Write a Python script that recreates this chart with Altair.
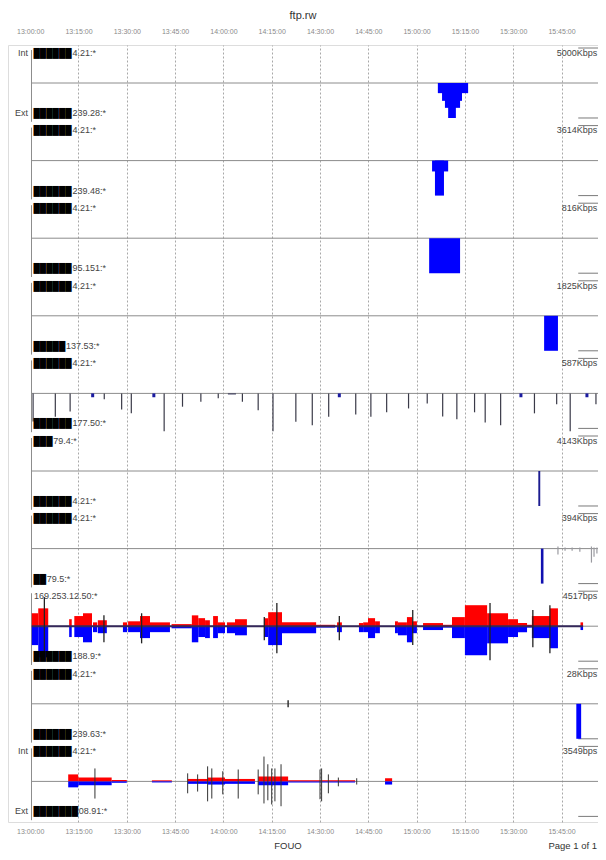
import altair as alt
import pandas as pd

# ---------------- data (times = minutes after 13:00:00, values = share of the panel's full scale) ----------------
TITLE = "ftp.rw"
FOOTER_LEFT = "FOUO"
FOOTER_RIGHT = "Page 1 of 1"
tick_minutes = [0, 15, 30, 45, 60, 75, 90, 105, 120, 135, 150, 165]
grid_minutes = [15, 30, 45, 60, 75, 90, 105, 120, 135, 150, 165]

top_prefix = ["Int", "", "", "", "", "", "", "", "", "Int"]
top_blob = [6, 6, 6, 6, 6, 3, 6, 0, 6, 6]
top_suffix = ["4.21:*", "4.21:*", "4.21:*", "4.21:*", "4.21:*", "79.4:*", "4.21:*",
              "169.253.12.50:*", "4.21:*", "4.21:*"]
bottom_prefix = ["Ext", "", "", "", "", "", "", "", "", "Ext"]
bottom_blob = [6, 6, 6, 5, 6, 6, 2, 6, 6, 7]
bottom_suffix = ["239.28:*", "239.48:*", "95.151:*", "137.53:*", "177.50:*", "4.21:*",
                 "79.5:*", "188.9:*", "239.63:*", "08.91:*"]
scale_labels = ["5000Kbps", "3614Kbps", "816Kbps", "1825Kbps", "587Kbps", "4143Kbps",
                "394Kbps", "4517bps", "28Kbps", "3549bps"]

# panel 1
p1_start = [126.6, 127.9, 128.8, 129.8]
p1_end = [136.0, 134.1, 133.5, 132.2]
p1_blue = [0.29, 0.51, 0.71, 1.0]
# panel 2
p2_start = [124.8, 125.7]
p2_end = [129.8, 128.5]
p2_blue = [0.31, 1.0]
# panel 3
p3_start = [123.9]
p3_end = [133.5]
p3_blue = [1.0]
# panel 4
p4_start = [159.6]
p4_end = [163.9]
p4_blue = [1.0]
# panel 5 (short bursts)
p5_time = [0.9, 7.8, 12.4, 19.4, 23.0, 28.4, 31.4, 38.4, 41.6, 47.3, 53.0, 58.4, 65.9, 70.8,
           75.4, 82.5, 87.6, 92.7, 96.0, 101.1, 105.8, 110.7, 117.5, 123.3, 128.1, 132.5,
           138.0, 141.3, 146.1, 152.4, 156.6, 163.5, 167.7, 172.9, 175.7]
p5_blue = [0.8, 0.67, 0.52, 0.11, 0.17, 0.46, 0.57, 0.11, 1.08, 0.38, 0.24, 0.14, 0.24, 0.48,
           1.08, 0.81, 0.91, 0.67, 0.11, 0.6, 0.67, 0.54, 0.43, 0.29, 0.66, 0.74,
           0.54, 0.83, 0.91, 0.11, 0.57, 0.31, 1.08, 0.11, 0.31]
p5_flat_start = [61.4]
p5_flat_end = [63.9]
p5_flat = [0.03]
# panel 6
p6_start = [157.8]
p6_end = [158.4]
p6_blue = [1.0]
# panel 7
p7_start = [158.6]
p7_end = [159.4]
p7_blue = [1.0]
p7_tick_time = [163.9, 166.1, 168.3, 170.7, 174.3, 175.1, 176.0]
p7_tick_up = [0.06, 0.03, 0.03, 0.03, 0.06, 0.03, 0.03]
p7_tick_down = [0.17, 0.06, 0.06, 0.09, 0.4, 0.23, 0.14]
# panel 8
p8_start = [0.5, 2.5, 12.1, 13.7, 16.4, 19.5, 21.0, 28.8, 30.4, 34.1, 37.2, 43.9, 50.2, 52.2,
            54.3, 56.8, 58.3, 61.1, 63.6, 72.6, 73.9, 78.2, 88.8, 95.3, 102.1, 103.4, 104.9,
            107.1, 113.3, 114.2, 117.0, 118.6, 122.0, 128.2, 131.0, 135.0, 141.9, 148.4,
            151.5, 154.3, 155.8, 161.4, 170.9]
p8_end = [2.5, 5.6, 12.9, 16.4, 19.2, 20.8, 23.8, 30.1, 34.1, 37.2, 43.4, 50.2, 52.2, 54.3,
          55.8, 58.3, 60.5, 63.6, 67.3, 73.9, 78.2, 88.8, 94.7, 96.8, 103.4, 104.9, 107.1,
          108.6, 114.2, 117.0, 118.6, 120.1, 128.2, 131.0, 135.0, 141.9, 148.4, 151.5,
          154.3, 155.8, 161.4, 163.9, 171.7]
p8_red = [0.37, 0.51, 0.2, 0.29, 0.37, 0.11, 0.17, 0.11, 0.14, 0.29, 0.11, 0.06, 0.31, 0.23,
          0.17, 0.29, 0.11, 0.11, 0.2, 0.23, 0.4, 0.11, 0.04, 0.11, 0.09, 0.11, 0.23,
          0.14, 0.14, 0.11, 0.26, 0.14, 0.09, 0.04, 0.26, 0.6, 0.37, 0.2,
          0.09, 0.04, 0.29, 0.51, 0.11]
p8_blue = [0.54, 0.89, 0.31, 0.31, 0.46, 0.17, 0.2, 0.17, 0.17, 0.34, 0.17, 0.06, 0.46, 0.31,
           0.34, 0.34, 0.2, 0.2, 0.26, 0.31, 0.54, 0.2, 0.04, 0.17, 0.17, 0.17, 0.34,
           0.2, 0.2, 0.26, 0.46, 0.2, 0.11, 0.04, 0.34, 0.83, 0.49, 0.31,
           0.17, 0.04, 0.34, 0.63, 0.11]
p8_active = [0.5, 171.7]
p8_spike_time = [4.4, 22.9, 34.6, 72.7, 76.6, 96.0, 118.8, 142.8, 156.1, 161.4]
p8_spike_up = [0.83, 0.31, 0.37, 0.26, 0.66, 0.29, 0.46, 0.66, 0.46, 0.6]
p8_spike_down = [0.86, 0.46, 0.49, 0.4, 0.77, 0.4, 0.54, 0.97, 0.6, 0.77]
# panel 9
p9_start = [169.6]
p9_end = [171.1]
p9_blue = [1.0]
p9_tick_time = [80.1]
p9_tick_up = [0.1]
p9_tick_down = [0.1]
# panel 10
p10_start = [11.8, 14.9, 25.3, 37.8, 48.9, 55.2, 60.5, 70.8, 80.1, 110.2]
p10_end = [14.9, 25.3, 30.0, 44.0, 55.2, 60.5, 69.8, 80.1, 100.9, 112.4]
p10_red = [0.2, 0.11, 0.04, 0.03, 0.07, 0.11, 0.07, 0.14, 0.03, 0.09]
p10_blue = [0.17, 0.11, 0.04, 0.03, 0.07, 0.09, 0.07, 0.11, 0.03, 0.09]
p10_spike_time = [20.1, 48.9, 52.0, 55.1, 56.4, 59.8, 64.6, 70.8, 72.6, 73.8, 75.0, 76.0, 77.9,
                  90.0, 90.5, 92.6, 95.7, 101.4]
p10_spike_up = [0.37, 0.23, 0.2, 0.43, 0.37, 0.29, 0.34, 0.34, 0.71, 0.49, 0.37, 0.37, 0.49,
                0.34, 0.37, 0.2, 0.11, 0.09]
p10_spike_down = [0.49, 0.34, 0.29, 0.57, 0.49, 0.37, 0.49, 0.37, 0.63, 0.54, 0.66, 0.57, 0.71,
                  0.51, 0.57, 0.34, 0.14, 0.09]

# ---------------- layout constants (style) ----------------
DEPTH = 0.451          # full scale, in panel-row units
BORDER_T = 0.4
RIGHT_T = 176.1
RIGHT_LINE = [170.2, 177.0]
TOP_LBL = -0.39
BOT_LBL = 0.387
RED = "#ff0000"
BLUE = "#0000ff"
FONT = "Liberation Sans"
LBL_SIZE = 9
BLOCK_W = 0.712 * LBL_SIZE

X_SCALE = alt.Scale(domain=[0, 180], range=[22.2, 601.8], nice=False, zero=False)
Y_SCALE = alt.Scale(domain=[-0.4897, 9.5232], range=[0, 777], nice=False, zero=False)

rects = []


def add_rects(panel, starts, ends, vals, side, color):
    sign = 1 if side == "down" else -1
    for s, e, v in zip(starts, ends, vals):
        rects.append(dict(t0=s, t1=e, y=panel, y2=panel + sign * v * DEPTH, color=color))


add_rects(0, p1_start, p1_end, p1_blue, "down", BLUE)
add_rects(1, p2_start, p2_end, p2_blue, "down", BLUE)
add_rects(2, p3_start, p3_end, p3_blue, "down", BLUE)
add_rects(3, p4_start, p4_end, p4_blue, "down", BLUE)
add_rects(4, p5_flat_start, p5_flat_end, p5_flat, "down", "#333355")
add_rects(5, p6_start, p6_end, p6_blue, "down", "#1c1c90")
add_rects(6, p7_start, p7_end, p7_blue, "down", "#1010b0")
add_rects(7, p8_start, p8_end, p8_red, "up", RED)
add_rects(7, p8_start, p8_end, p8_blue, "down", BLUE)
add_rects(8, p9_start, p9_end, p9_blue, "down", BLUE)
add_rects(9, p10_start, p10_end, p10_red, "up", RED)
add_rects(9, p10_start, p10_end, p10_blue, "down", BLUE)
rect_df = pd.DataFrame(rects)

spikes = []


def add_spikes(panel, times, ups, downs, color, width):
    for t, u, d in zip(times, ups, downs):
        spikes.append(dict(t=t, y=panel - u * DEPTH, y2=panel + d * DEPTH, color=color, w=width))


for t, v in zip(p5_time, p5_blue):
    if v <= 0.12:
        add_spikes(4, [t], [0.0], [v], "#1a1aa0", 3.0)
    else:
        add_spikes(4, [t], [0.0], [v], "#3a3a48", 1.2)
add_spikes(6, p7_tick_time, p7_tick_up, p7_tick_down, "#9a9aa0", 1.2)
add_spikes(7, p8_spike_time, p8_spike_up, p8_spike_down, "#222222", 1.3)
add_spikes(8, p9_tick_time, p9_tick_up, p9_tick_down, "#333333", 1.5)
add_spikes(9, p10_spike_time, p10_spike_up, p10_spike_down, "#333333", 1.0)
spike_df = pd.DataFrame(spikes)

panels = list(range(10))
center_df = pd.DataFrame({"t0": [BORDER_T] * 10, "t1": [180] * 10, "y": panels})
border_df = pd.DataFrame({"t": [BORDER_T] * 10,
                          "y": [p - 0.425 for p in panels], "y2": [p + 0.5 for p in panels]})
rline_df = pd.DataFrame({"t0": [RIGHT_LINE[0]] * 20, "t1": [RIGHT_LINE[1]] * 20,
                         "y": [p - DEPTH for p in panels] + [p + DEPTH for p in panels]})
active_df = pd.DataFrame({"t0": [p8_active[0]], "t1": [p8_active[1]], "y": [7]})

lbl_rows = []
for i in panels:
    lbl_rows.append(dict(t=BORDER_T, y=i + TOP_LBL, prefix=top_prefix[i],
                         blob="\u2588" * top_blob[i], n=top_blob[i], suffix=top_suffix[i]))
    lbl_rows.append(dict(t=BORDER_T, y=i + BOT_LBL, prefix=bottom_prefix[i],
                         blob="\u2588" * bottom_blob[i], n=bottom_blob[i],
                         suffix=bottom_suffix[i]))
lbl_df = pd.DataFrame(lbl_rows)
right_df = pd.DataFrame({"t": [RIGHT_T] * 10, "y": [p + TOP_LBL for p in panels],
                         "txt": scale_labels})

label_expr = ("(13 + floor(datum.value / 60)) + ':' + (datum.value % 60 < 10 ? '0' : '') "
              "+ (datum.value % 60) + ':00'")
axis_common = dict(values=tick_minutes, labelExpr=label_expr, grid=False, ticks=False,
                   tickSize=0, domain=False, labelFontSize=7, labelColor="#8a8a8a",
                   labelFont=FONT, labelFlush=False, title=None, labelOverlap=False)
top_axis = alt.Axis(orient="top", labelPadding=11, **axis_common)
bottom_axis = alt.Axis(orient="bottom", labelPadding=5, **axis_common)
grid_axis = alt.Axis(orient="bottom", values=grid_minutes, labels=False, ticks=False,
                     domain=False, grid=True, gridDash=[2, 2], gridColor="#a8a8a8",
                     gridWidth=1, title=None)

center = alt.Chart(center_df).mark_rule(color="#8c8c8c", strokeWidth=1).encode(
    x=alt.X("t0:Q", scale=X_SCALE, axis=grid_axis), x2="t1:Q",
    y=alt.Y("y:Q", scale=Y_SCALE, axis=None))
border = alt.Chart(border_df).mark_rule(color="#8c8c8c", strokeWidth=1).encode(
    x=alt.X("t:Q", scale=X_SCALE, axis=top_axis),
    y=alt.Y("y:Q", scale=Y_SCALE, axis=None), y2="y2:Q")
rlines = alt.Chart(rline_df).mark_rule(color="#7a7a7a", strokeWidth=1).encode(
    x=alt.X("t0:Q", scale=X_SCALE, axis=bottom_axis), x2="t1:Q",
    y=alt.Y("y:Q", scale=Y_SCALE, axis=None))
bars = alt.Chart(rect_df).mark_rect(strokeWidth=0).encode(
    x=alt.X("t0:Q", scale=X_SCALE, axis=None), x2="t1:Q",
    y=alt.Y("y:Q", scale=Y_SCALE, axis=None), y2="y2:Q",
    color=alt.Color("color:N", scale=None))
active = alt.Chart(active_df).mark_rule(color="#34285a", strokeWidth=2).encode(
    x=alt.X("t0:Q", scale=X_SCALE, axis=None), x2="t1:Q",
    y=alt.Y("y:Q", scale=Y_SCALE, axis=None))
spk = alt.Chart(spike_df).mark_rule().encode(
    x=alt.X("t:Q", scale=X_SCALE, axis=None),
    y=alt.Y("y:Q", scale=Y_SCALE, axis=None), y2="y2:Q",
    color=alt.Color("color:N", scale=None),
    strokeWidth=alt.StrokeWidth("w:Q", scale=None))

txt_enc = dict(x=alt.X("t:Q", scale=X_SCALE, axis=None),
               y=alt.Y("y:Q", scale=Y_SCALE, axis=None))
prefix = alt.Chart(lbl_df).mark_text(align="right", baseline="middle", dx=-3.5, font=FONT,
                                     fontSize=LBL_SIZE, color="#444444").encode(
    text="prefix:N", **txt_enc)
blob = alt.Chart(lbl_df).mark_text(align="left", baseline="middle", dx=2, font=FONT,
                                   fontSize=LBL_SIZE, color="#000000").encode(
    text="blob:N", **txt_enc)
suffix_layers = []
for n in sorted(set(lbl_df["n"])):
    suffix_layers.append(
        alt.Chart(lbl_df[lbl_df["n"] == n]).mark_text(
            align="left", baseline="middle", dx=2.5 + n * BLOCK_W, font=FONT,
            fontSize=LBL_SIZE, color="#444444").encode(text="suffix:N", **txt_enc))
right = alt.Chart(right_df).mark_text(align="right", baseline="middle", font=FONT,
                                      fontSize=LBL_SIZE, color="#444444").encode(
    text="txt:N", **txt_enc)

foot_df = pd.DataFrame({"a": [FOOTER_LEFT], "b": [FOOTER_RIGHT]})
foot1 = alt.Chart(foot_df).mark_text(align="center", baseline="bottom", font=FONT,
                                     fontSize=9.5, color="#333333").encode(
    text="a:N", x=alt.value(280), y=alt.value(806))
foot2 = alt.Chart(foot_df).mark_text(align="right", baseline="bottom", font=FONT,
                                     fontSize=9.5, color="#333333").encode(
    text="b:N", x=alt.value(589), y=alt.value(806))

chart = alt.layer(center, border, rlines, bars, active, spk, prefix, blob, *suffix_layers,
                  right, foot1, foot2).resolve_axis(x="independent").properties(
    width=590, height=777,
    padding={"left": 0, "right": 0, "top": 37, "bottom": 30},
    autosize=alt.AutoSizeParams(type="none"),
    title=alt.TitleParams(TITLE, font=FONT, fontSize=11, fontWeight="normal",
                          color="#333333", anchor="middle", offset=6),
).configure_view(stroke=None).configure(background="white")

chart.save("out.html", embed_options={"renderer": "svg", "actions": False})
